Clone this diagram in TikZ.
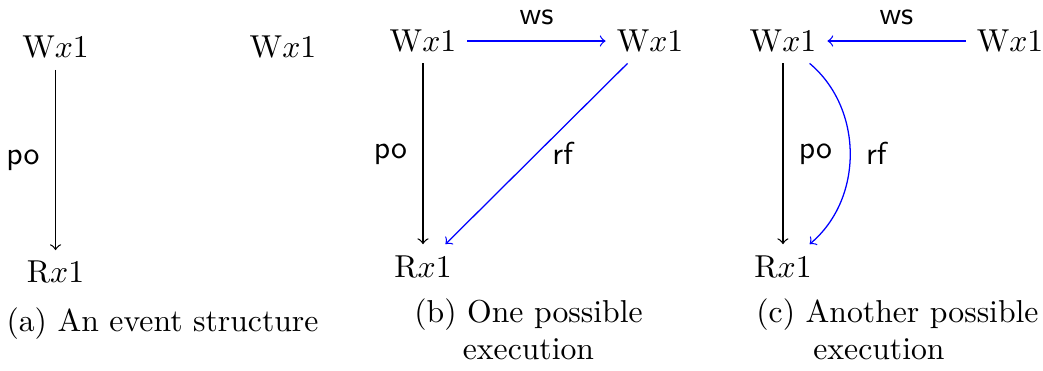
\documentclass[tikz,border=0pt]{standalone}
\usetikzlibrary{positioning}
\tikzset{
  ev/.style={anchor=base},
  lbl/.style={font=\sffamily, text=black},
  capt/.style={anchor=base},
}
\begin{document}
\begin{tikzpicture}
    \useasboundingbox (0,0) rectangle (11.567,4.114);

    % (a) event structure
    \node[ev] (wa1) at (0.616,3.471) {W$x$1};
    \node[ev] (wa2) at (3.138,3.471) {W$x$1};
    \node[ev] (ra) at (0.616,0.976) {R$x$1};
    \draw[->] (wa1) -- node[lbl, left=1.5pt] {po} (ra);
    \node[capt] (capa) at (1.802,0.436) {(a) An event structure};

    % (b) one execution
    \node[ev] (wb1) at (4.691,3.543) {W$x$1};
    \node[ev] (wb2) at (7.209,3.543) {W$x$1};
    \node[ev] (rb) at (4.691,1.042) {R$x$1};
    \draw[->, blue] (wb1) -- node[lbl, above=1.5pt] {ws} (wb2);
    \draw[->] (wb1) -- node[lbl, left=1.5pt] {po} (rb);
    \draw[->, blue] (wb2) -- node[lbl, right=1.5pt] {rf} (rb);
    \node[capt] (capb1) at (5.861,0.543) {(b) One possible};
    \node[capt] (capb2) at (5.861,0.122) {execution};

    % (c) another execution
    \node[ev] (wc1) at (8.683,3.543) {W$x$1};
    \node[ev] (wc2) at (11.201,3.543) {W$x$1};
    \node[ev] (rc) at (8.683,1.042) {R$x$1};
    \draw[->, blue] (wc2) -- node[lbl, above=1.5pt] {ws} (wc1);
    \draw[->] (wc1) -- node[lbl, right=1.5pt] {po} (rc);
    \draw[->, blue] (wc1) to[bend left=50] node[lbl, right=1.5pt] {rf} (rc);
    \node[capt] (capc1) at (9.953,0.543) {(c) Another possible};
    \node[capt] (capc2) at (9.748,0.122) {execution};
\end{tikzpicture}
\end{document}
